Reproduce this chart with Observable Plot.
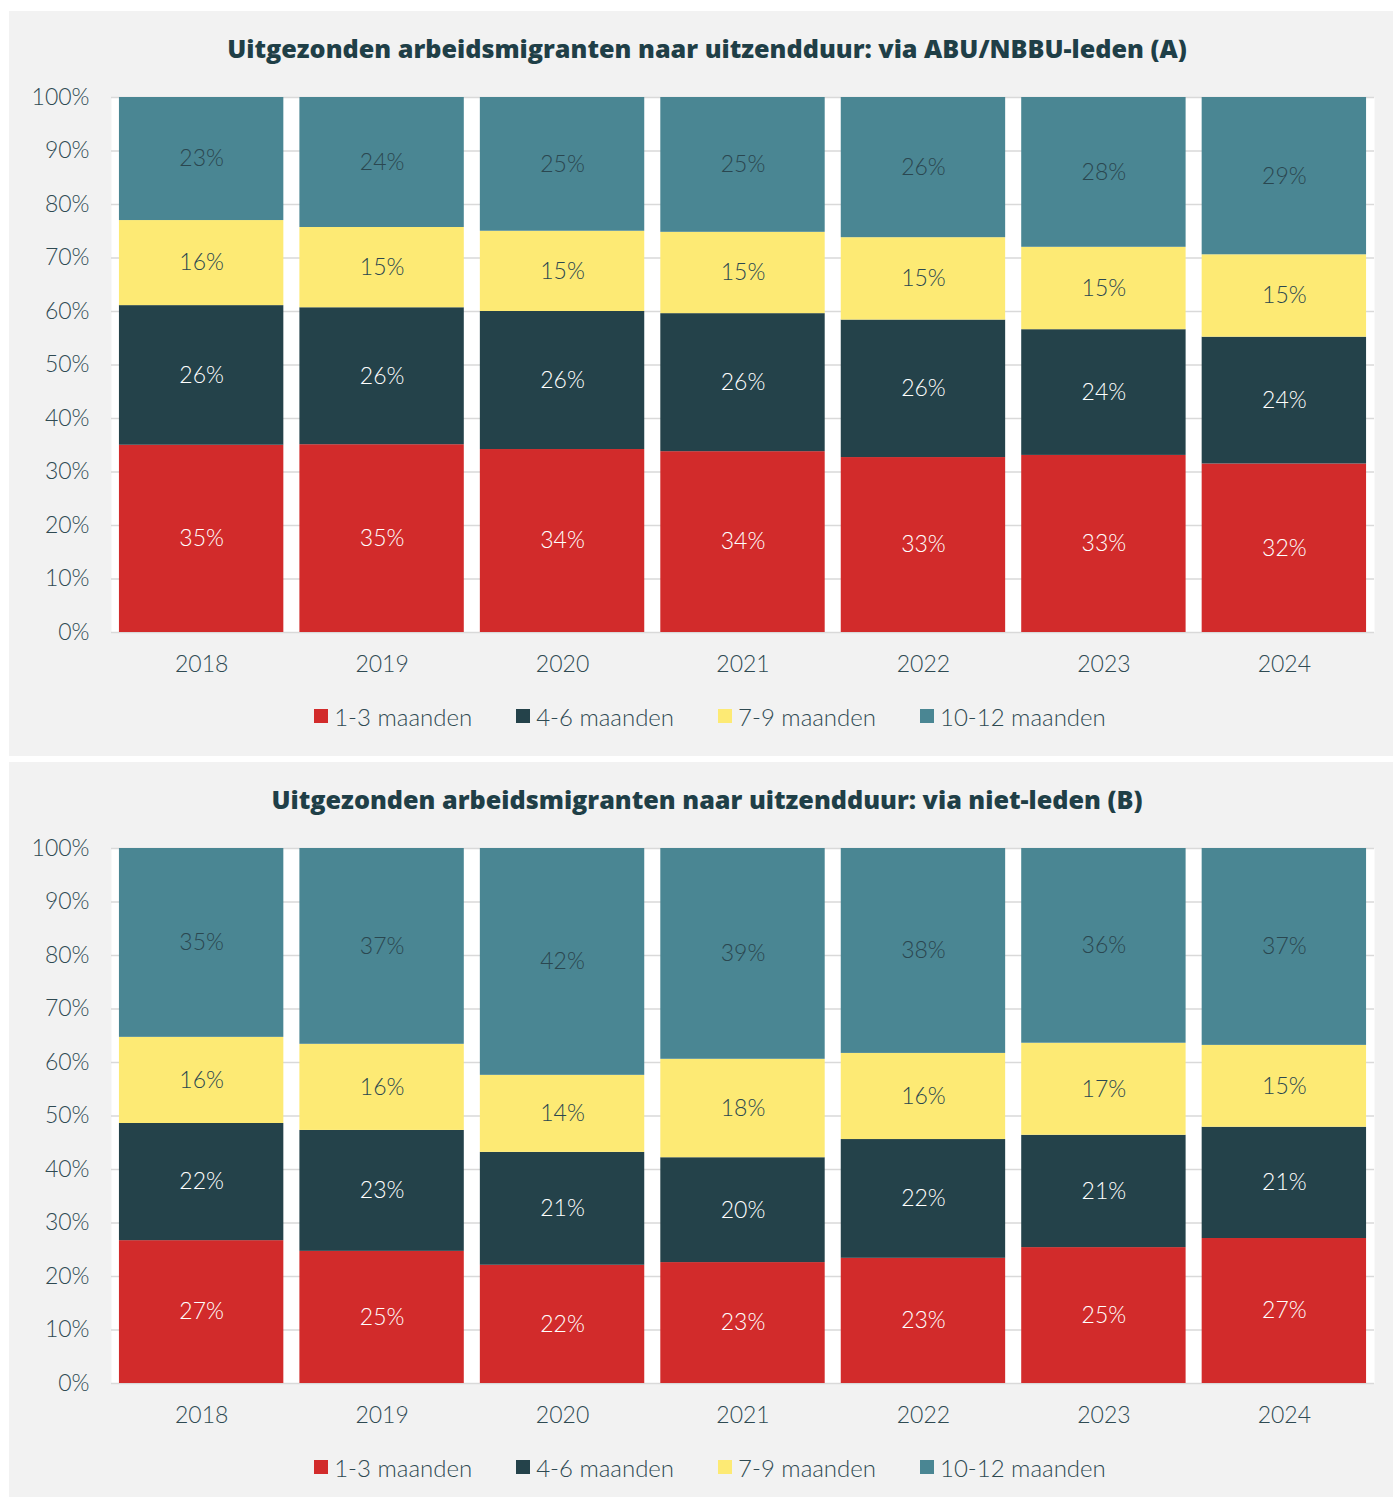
<!DOCTYPE html>
<html><head><meta charset="utf-8">
<script src="https://cdn.jsdelivr.net/npm/d3@7"></script>
<script src="https://cdn.jsdelivr.net/npm/@observablehq/plot@0.6"></script>
<style>
body{margin:0;background:#fff;font-family:Lato,"Noto Sans",sans-serif;}
.panel{position:absolute;left:9px;width:1384px;background:#f2f2f2;}
.title{position:absolute;left:12px;right:0;top:22px;height:30px;line-height:30px;text-align:center;font-family:"Open Sans",sans-serif;font-weight:800;font-size:25.2px;color:#1f3f47;}
.chart{position:absolute;left:0;top:60px;}
.legend{position:absolute;left:18px;right:0;top:691px;height:28px;display:flex;justify-content:center;align-items:center;font-size:24px;font-weight:300;color:#2f4a52;}
.item{display:flex;align-items:center;margin:0 22px;}
.sw{width:14px;height:14px;margin-right:6px;}
</style>
</head><body>
<div id="root"></div>
<script>
const years = ["2018","2019","2020","2021","2022","2023","2024"];
const series = ["1-3 maanden","4-6 maanden","7-9 maanden","10-12 maanden"];
const colors = ["#d22b2b","#24424a","#fdea74","#4a8693"];
const labelColors = ["#ffffff","#ffffff","#2a4750","#2a4750"];
const yTicks = [0,10,20,30,40,50,60,70,80,90,100];

const titleA = "Uitgezonden arbeidsmigranten naar uitzendduur: via ABU/NBBU-leden (A)";
const a_1_3   = [35.0, 35.1, 34.2, 33.8, 32.7, 33.1, 31.5];
const a_4_6   = [26.1, 25.6, 25.8, 25.8, 25.7, 23.5, 23.7];
const a_7_9   = [15.9, 15.0, 15.0, 15.2, 15.4, 15.4, 15.4];
const a_10_12 = [23.0, 24.3, 25.0, 25.2, 26.2, 28.0, 29.4];

const titleB = "Uitgezonden arbeidsmigranten naar uitzendduur: via niet-leden (B)";
const b_1_3   = [26.7, 24.7, 22.1, 22.6, 23.4, 25.4, 27.1];
const b_4_6   = [21.9, 22.6, 21.1, 19.6, 22.2, 21.0, 20.8];
const b_7_9   = [16.1, 16.1, 14.4, 18.4, 16.1, 17.2, 15.3];
const b_10_12 = [35.3, 36.6, 42.4, 39.4, 38.3, 36.4, 36.8];

function buildRows(cols){
  const rows = [];
  years.forEach((yr,i)=>{
    let cum = 0;
    cols.forEach((col,j)=>{
      const v = col[i];
      rows.push({year:yr, serie:series[j], si:j, value:v, mid:cum+v/2, label:Math.round(v)+"%"});
      cum += v;
    });
  });
  return rows;
}

function makePanel(top, height, title, cols){
  const panel = document.createElement("div");
  panel.className = "panel";
  panel.style.top = top+"px";
  panel.style.height = height+"px";
  const t = document.createElement("div");
  t.className = "title"; t.textContent = title;
  panel.appendChild(t);
  const rows = buildRows(cols);
  const chart = Plot.plot({
    width: 1384, height: 621,
    marginLeft: 102, marginRight: 19, marginTop: 26, marginBottom: 60,
    style: {background:"transparent", fontFamily:"Lato, 'Noto Sans', sans-serif", fontSize:"23px", fontWeight:300, color:"#2f4a52"},
    x: {domain: years, paddingInner: 0.089, paddingOuter: 0.044, round: false, label: null, tickSize: 0, tickPadding: 23},
    y: {domain: [0,100], ticks: yTicks, tickFormat: d => d+"%", label: null, tickSize: 0, tickPadding: 22},
    color: {domain: series, range: colors},
    marks: [
      Plot.frame({fill:"white", stroke:null}),
      Plot.ruleY(yTicks, {stroke:"#d9d9d9", strokeWidth:1.5}),
      Plot.barY(rows, Plot.stackY({x:"year", y:"value", fill:"serie", order: series})),
      Plot.text(rows.filter(d=>d.si<2), {x:"year", y:"mid", text:"label", fill:labelColors[0], fontSize:23}),
      Plot.text(rows.filter(d=>d.si>=2), {x:"year", y:"mid", text:"label", fill:labelColors[2], fontSize:23})
    ]
  });
  chart.classList.add("chart");
  panel.appendChild(chart);
  const lg = document.createElement("div");
  lg.className = "legend";
  series.forEach((s,j)=>{
    const it = document.createElement("div"); it.className="item";
    const sw = document.createElement("div"); sw.className="sw"; sw.style.background=colors[j];
    const tx = document.createElement("span"); tx.textContent = s;
    it.appendChild(sw); it.appendChild(tx); lg.appendChild(it);
  });
  panel.appendChild(lg);
  document.getElementById("root").appendChild(panel);
}
makePanel(11, 745, titleA, [a_1_3, a_4_6, a_7_9, a_10_12]);
makePanel(762, 735, titleB, [b_1_3, b_4_6, b_7_9, b_10_12]);
</script>
</body></html>
